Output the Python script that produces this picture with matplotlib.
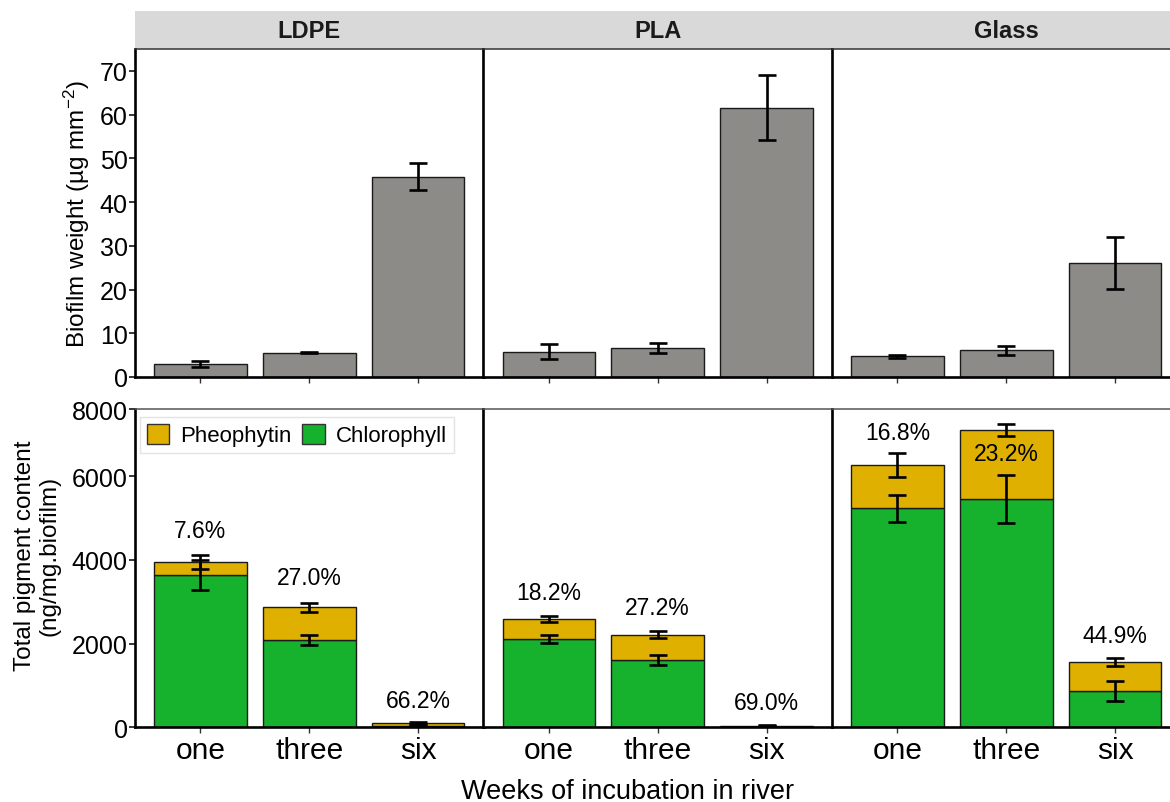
import matplotlib
matplotlib.use("Agg")
import matplotlib.pyplot as plt
from matplotlib.patches import Patch

plt.rcParams['font.family'] = ['Liberation Sans', 'DejaVu Sans']
plt.rcParams['mathtext.fontset'] = 'custom'
plt.rcParams['mathtext.rm'] = 'Liberation Sans'
plt.rcParams['mathtext.it'] = 'Liberation Sans:italic'

# ---------------- data ----------------
materials = ['LDPE', 'PLA', 'Glass']
weeks = ['one', 'three', 'six']

# Biofilm weight (ug mm^-2)
weight_ldpe = [3.0, 5.6, 45.8]
weight_ldpe_err = [0.75, 0.2, 3.1]
weight_pla = [5.8, 6.6, 61.6]
weight_pla_err = [1.7, 1.1, 7.5]
weight_glass = [4.7, 6.1, 26.1]
weight_glass_err = [0.3, 1.0, 6.0]

# Pigments (ng/mg biofilm)
chl_ldpe = [3640, 2094, 35]
chl_ldpe_err = [360, 123, 15]
pheo_ldpe = [304, 774, 68]
pheo_ldpe_err = [167, 112, 25]

chl_pla = [2111, 1609, 12]
chl_pla_err = [91, 108, 8]
pheo_pla = [478, 605, 28]
pheo_pla_err = [80, 87, 10]

chl_glass = [5235, 5457, 868]
chl_glass_err = [318, 565, 232]
pheo_glass = [1035, 1650, 700]
pheo_glass_err = [279, 140, 100]

pct_ldpe = ['7.6%', '27.0%', '66.2%']
pct_pla = ['18.2%', '27.2%', '69.0%']
pct_glass = ['16.8%', '23.2%', '44.9%']

# label heights for the percentage annotations
pct_y_ldpe = [4716, 3593, 636]
pct_y_pla = [3227, 2868, 598]
pct_y_glass = [7051, 6550, 2190]

weights = [weight_ldpe, weight_pla, weight_glass]
weights_err = [weight_ldpe_err, weight_pla_err, weight_glass_err]
chls = [chl_ldpe, chl_pla, chl_glass]
chls_err = [chl_ldpe_err, chl_pla_err, chl_glass_err]
pheos = [pheo_ldpe, pheo_pla, pheo_glass]
pheos_err = [pheo_ldpe_err, pheo_pla_err, pheo_glass_err]
pcts = [pct_ldpe, pct_pla, pct_glass]
pct_ys = [pct_y_ldpe, pct_y_pla, pct_y_glass]

# ---------------- style ----------------
GREY = '#8c8b87'
PHEO = '#dfb000'
CHL = '#16b22e'
STRIP = '#d9d9d9'
EDGE = '#1a1a1a'

W, H = 1170, 803
fig = plt.figure(figsize=(W / 100, H / 100), dpi=100)

left0 = 135
pw = 348.5
top_y0, top_y1 = 50, 378
bot_y0, bot_y1 = 410, 728.3
BOT_TOP = 7610

x = list(range(len(weeks)))
bw = 0.85
err_kw = dict(ecolor='black', elinewidth=1.9, capsize=6.2, capthick=1.9)
NARROW = ['Liberation Sans Narrow', 'Liberation Sans', 'DejaVu Sans']


def style_axes(ax, i, top_color):
    for s in ['left', 'bottom']:
        ax.spines[s].set_color('black')
        ax.spines[s].set_linewidth(1.9)
    ax.spines['top'].set_color(top_color)
    ax.spines['top'].set_linewidth(1.1)
    ax.spines['right'].set_color('#555555')
    ax.spines['right'].set_linewidth(1.0)
    ax.set_xlim(-0.6, 2.6)
    ax.tick_params(axis='x', direction='out', length=4.5, width=1.0, colors='#333333',
                   labelcolor='black', pad=1.5)
    ax.tick_params(axis='y', direction='out', length=4.3, width=1.1, colors='black',
                   labelsize=18, pad=1.0)
    if i > 0:
        ax.tick_params(axis='y', left=False, labelleft=False)


for i, mat in enumerate(materials):
    x0 = left0 + i * pw
    ax_s = fig.add_axes([x0 / W, 1 - top_y0 / H, pw / W, 38 / H])
    ax_t = fig.add_axes([x0 / W, 1 - top_y1 / H, pw / W, (top_y1 - top_y0) / H])
    ax_b = fig.add_axes([x0 / W, 1 - bot_y1 / H, pw / W, (bot_y1 - bot_y0) / H])

    # strip
    ax_s.set_facecolor(STRIP)
    for s in ax_s.spines.values():
        s.set_visible(False)
    ax_s.set_xticks([])
    ax_s.set_yticks([])
    ax_s.text(0.5, 0.5, mat, transform=ax_s.transAxes, ha='center', va='center',
              fontsize=17, fontweight='bold', color='#1a1a1a')

    # top: biofilm weight
    ax_t.bar(x, weights[i], width=bw, color=GREY, edgecolor=EDGE, linewidth=1.0, zorder=2)
    ax_t.errorbar(x, weights[i], yerr=weights_err[i], fmt='none', zorder=3, **err_kw)
    ax_t.set_ylim(0, 75)
    ax_t.set_yticks([0, 10, 20, 30, 40, 50, 60, 70])
    ax_t.set_xticks(x)
    ax_t.set_xticklabels([])
    style_axes(ax_t, i, '#333333')

    # bottom: pigments
    ax_b.bar(x, chls[i], width=bw, color=CHL, edgecolor=EDGE, linewidth=1.0, zorder=2)
    ax_b.bar(x, pheos[i], bottom=chls[i], width=bw, color=PHEO, edgecolor=EDGE,
             linewidth=1.0, zorder=2)
    totals = [c + p for c, p in zip(chls[i], pheos[i])]
    ax_b.errorbar(x, chls[i], yerr=chls_err[i], fmt='none', zorder=3, **err_kw)
    ax_b.errorbar(x, totals, yerr=pheos_err[i], fmt='none', zorder=3, **err_kw)
    for xi, lab, ly in zip(x, pcts[i], pct_ys[i]):
        ax_b.text(xi, ly, lab, ha='center', va='center', fontsize=16.5, zorder=4)
    ax_b.set_ylim(0, BOT_TOP)
    ax_b.set_yticks([0, 2000, 4000, 6000, BOT_TOP])
    ax_b.set_yticklabels(['0', '2000', '4000', '6000', '8000'])
    ax_b.set_xticks(x)
    ax_b.set_xticklabels(weeks, family=NARROW, fontsize=21.5)
    style_axes(ax_b, i, '#555555')

    if i == 0:
        handles = [Patch(facecolor=PHEO, edgecolor='#333333', linewidth=1.0, label='Pheophytin'),
                   Patch(facecolor=CHL, edgecolor='#333333', linewidth=1.0, label='Chlorophyll')]
        leg = ax_b.legend(handles=handles, loc='upper left',
                          bbox_to_anchor=(5 / pw, 1 - 8 / (bot_y1 - bot_y0)),
                          ncol=2, frameon=True, fancybox=False, fontsize=16,
                          handlelength=1.0, handleheight=1.0, handletextpad=0.5,
                          columnspacing=0.5, borderpad=0.3, borderaxespad=0)
        leg.get_frame().set_edgecolor('#dddddd')
        leg.get_frame().set_linewidth(1.0)

fig.text(77 / W, 1 - 214 / H, 'Biofilm weight (µg mm$^{-2}$)', rotation=90,
         ha='center', va='center', fontsize=17.5)
fig.text(37 / W, 1 - 556 / H, 'Total pigment content\n(ng/mg.biofilm)', rotation=90,
         ha='center', va='center', fontsize=17.5, linespacing=1.15)
fig.text(628 / W, 1 - 792 / H, 'Weeks of incubation in river', ha='center', va='center',
         fontsize=19.5)

fig.savefig('out.png', dpi=100)
